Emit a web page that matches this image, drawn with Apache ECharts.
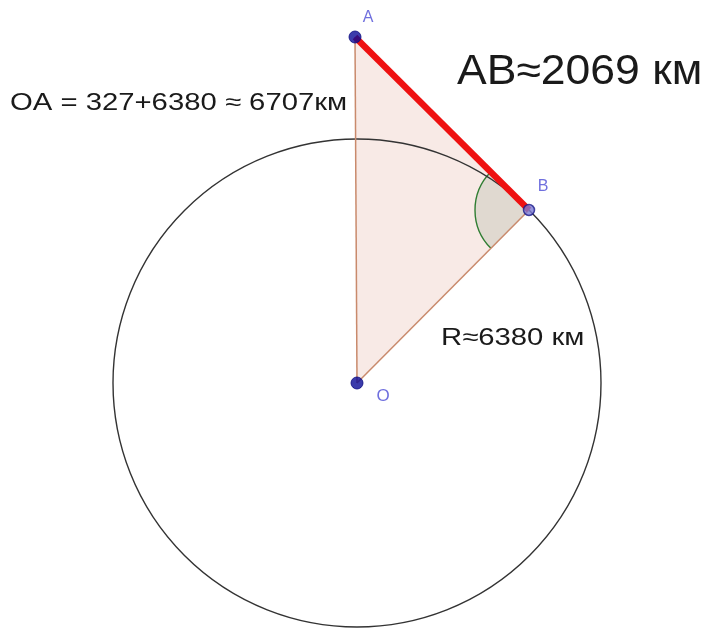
<!DOCTYPE html>
<html>
<head>
<meta charset="utf-8">
<script src="https://cdn.jsdelivr.net/npm/echarts@6/dist/echarts.min.js"></script>
<style>
html,body{margin:0;padding:0;background:#fff;}
#chart{width:708px;height:628px;}
</style>
</head>
<body>
<div id="chart"></div>
<script>
// Points of the construction (drawing units)
const pointNames = ['A', 'B', 'O'];
const pointX = [355, 529, 357];
const pointY = [37, 210, 383];
// Earth circle centred at O passing through B
const circleRadius = 244;
// Annotation texts
const labelOA = 'OA = 327+6380 \u2248 6707\u043a\u043c';
const labelAB = 'AB\u22482069 \u043a\u043c';
const labelR = 'R\u22486380 \u043a\u043c';

const P = {};
pointNames.forEach((n, i) => { P[n] = [pointX[i], pointY[i]]; });

const chart = echarts.init(document.getElementById('chart'), null, {renderer: 'canvas'});

const labelColor = '#4b4bd6';

const option = {
  animation: false,
  backgroundColor: '#ffffff',
  grid: {left: 0, right: 0, top: 0, bottom: 0},
  xAxis: {type: 'value', min: 0, max: 708, show: false},
  yAxis: {type: 'value', min: 0, max: 628, inverse: true, show: false},
  series: [
    // triangle fill
    {
      type: 'custom',
      z: 1,
      data: [0],
      renderItem: function (params, api) {
        const pts = ['A', 'B', 'O'].map(n => api.coord(P[n]));
        return {
          type: 'polygon',
          shape: {points: pts},
          style: {fill: 'rgba(205,105,75,0.14)', stroke: 'none'}
        };
      }
    },
    // angle sector at B
    {
      type: 'custom',
      z: 2,
      data: [0],
      renderItem: function (params, api) {
        const b = api.coord(P.B), a = api.coord(P.A), o = api.coord(P.O);
        const angA = Math.atan2(a[1] - b[1], a[0] - b[0]);
        const angO = Math.atan2(o[1] - b[1], o[0] - b[0]);
        let start = angO, end = angA;
        if (end < start) end += Math.PI * 2;
        const r = api.size([54, 0])[0];
        return {
          type: 'group',
          children: [
            {
              type: 'sector',
              shape: {cx: b[0], cy: b[1], r0: 0, r: r, startAngle: start, endAngle: end, clockwise: true},
              style: {fill: 'rgba(60,110,60,0.13)', stroke: 'none'}
            },
            {
              type: 'arc',
              shape: {cx: b[0], cy: b[1], r: r, startAngle: start, endAngle: end, clockwise: true},
              style: {fill: 'none', stroke: '#2f7d32', lineWidth: 1.4}
            }
          ]
        };
      }
    },
    // circle
    {
      type: 'custom',
      z: 3,
      data: [0],
      renderItem: function (params, api) {
        const c = api.coord(P.O);
        const r = api.size([circleRadius, 0])[0];
        return {
          type: 'circle',
          shape: {cx: c[0], cy: c[1], r: r},
          style: {fill: 'none', stroke: '#333333', lineWidth: 1.4}
        };
      }
    },
    // OA side
    {
      type: 'line', z: 4, symbol: 'none', silent: true,
      data: [P.O, P.A],
      lineStyle: {color: '#c98a6c', width: 1.5}
    },
    // OB side
    {
      type: 'line', z: 4, symbol: 'none', silent: true,
      data: [P.O, P.B],
      lineStyle: {color: '#c98a6c', width: 1.5}
    },
    // AB segment
    {
      type: 'line', z: 5, symbol: 'none', silent: true,
      data: [P.A, P.B],
      lineStyle: {color: '#ee1111', width: 6.5}
    },
    // points A, O
    {
      type: 'scatter', z: 6,
      symbolSize: 12,
      itemStyle: {color: '#0a0a96', borderColor: '#0a0a80', borderWidth: 1},
      data: [
        {value: P.A, label: {show: true, formatter: 'A', offset: [13, -19]}},
        {value: P.O, label: {show: true, formatter: 'O', offset: [26, 13], fontSize: 17}}
      ],
      label: {position: 'inside', color: labelColor, fontSize: 16, fontFamily: 'Liberation Sans'}
    },
    // point B
    {
      type: 'scatter', z: 6,
      symbolSize: 11,
      itemStyle: {color: '#7a7ad6', borderColor: '#1a1a8a', borderWidth: 1.5},
      data: [
        {value: P.B, label: {show: true, formatter: 'B', offset: [14, -23]}}
      ],
      label: {position: 'inside', color: labelColor, fontSize: 16, fontFamily: 'Liberation Sans'}
    }
  ],
  graphic: [
    {
      type: 'text', x: 10, y: 103, scaleX: 1.22, z: 10,
      style: {text: labelOA, fontSize: 24, fontFamily: 'Liberation Sans', fill: '#1a1a1a', textVerticalAlign: 'middle', textAlign: 'left'}
    },
    {
      type: 'text', x: 457, y: 72, scaleX: 1.06, z: 10,
      style: {text: labelAB, fontSize: 42, fontFamily: 'Liberation Sans', fill: '#1a1a1a', textVerticalAlign: 'middle', textAlign: 'left'}
    },
    {
      type: 'text', x: 441, y: 338, scaleX: 1.22, z: 10,
      style: {text: labelR, fontSize: 24, fontFamily: 'Liberation Sans', fill: '#1a1a1a', textVerticalAlign: 'middle', textAlign: 'left'}
    }
  ]
};

chart.setOption(option);
</script>
</body>
</html>
